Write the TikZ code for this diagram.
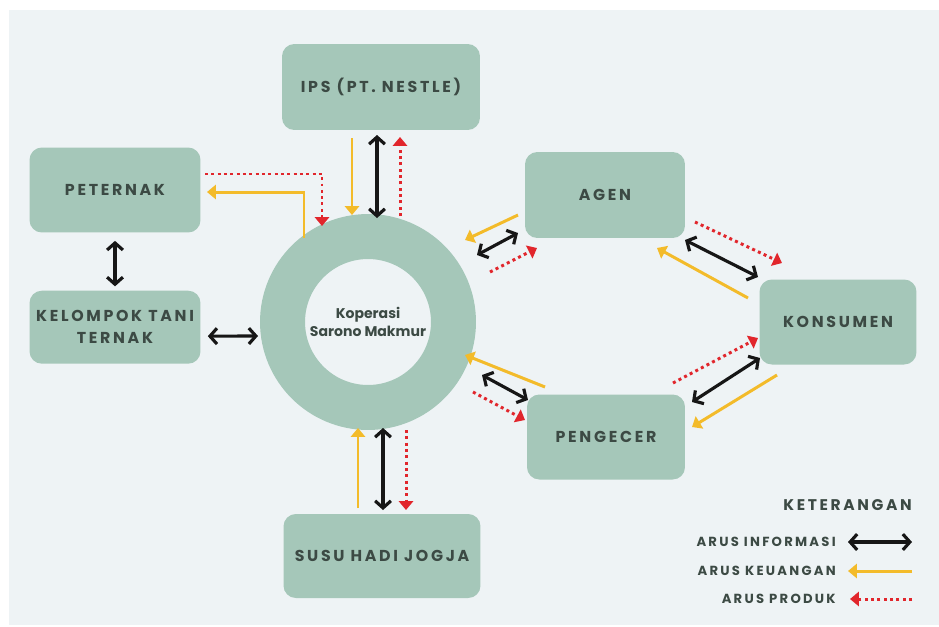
\documentclass[tikz,border=0pt]{standalone}
\usepackage{fontspec}
\usepackage{tikz}
\usetikzlibrary{arrows.meta, positioning, backgrounds}
\setmainfont{Poppins}
\newfontfamily\capsfont[LetterSpace=17]{Poppins}
\definecolor{sageGreen}{RGB}{165,199,185}
\definecolor{darkText}{RGB}{60,74,68}
\definecolor{paleBg}{RGB}{238,243,245}
\definecolor{infoBlack}{RGB}{22,22,22}
\definecolor{moneyYellow}{RGB}{243,187,42}
\definecolor{prodRed}{RGB}{225,38,44}

\begin{document}
\begin{tikzpicture}[
  x=0.02cm, y=-0.02cm,
  box/.style={rectangle, rounded corners=7pt, fill=sageGreen, align=center,
              text=darkText, font=\capsfont\bfseries\fontsize{9}{12.5}\selectfont,
              minimum width=3.3cm, minimum height=1.7cm, inner sep=2pt},
  ring/.style={circle, draw=sageGreen, line width=0.9cm, minimum size=3.42cm,
               inner sep=0pt, align=center, text=darkText,
               font=\bfseries\fontsize{8}{10}\selectfont},
  legtitle/.style={text=darkText, font=\capsfont\bfseries\fontsize{8.8}{10}\selectfont, inner sep=0pt},
  legtext/.style={text=darkText, font=\capsfont\bfseries\fontsize{7.5}{8}\selectfont, inner sep=0pt},
  info/.style={draw=infoBlack, line width=1.8pt,
               {Straight Barb[length=4pt,width=9pt]}-{Straight Barb[length=4pt,width=9pt]}},
  money/.style={draw=moneyYellow, line width=1.7pt, -{Triangle[length=5pt,width=8pt]}},
  prod/.style={draw=prodRed, line width=1.7pt, dash pattern=on 1.7pt off 1.9pt,
               -{Triangle[length=5pt,width=8pt]}},
]

%% Nodes
\node[ring] (kop) at (368,322) {Koperasi\\Sarono Makmur};

\node[box, minimum width=3.96cm, minimum height=1.72cm] (ips)  at (381,87)  {IPS (PT. NESTLE)};
\node[box, minimum width=3.42cm] (pet)  at (115,190) {PETERNAK};
\node[box, minimum width=3.42cm, minimum height=1.46cm, below=1.15cm of pet] (kel) {KELOMPOK TANI\\TERNAK};
\node[box, minimum width=3.2cm, minimum height=1.72cm] (agen) at (605,195) {AGEN};
\node[box, minimum width=3.14cm] (kons) at (838,322) {KONSUMEN};
\node[box, minimum width=3.16cm] (peng) at (606,437) {PENGECER};
\node[box, minimum width=3.94cm, minimum height=1.68cm] (susu) at (382,556) {SUSU HADI JOGJA};

%% Legend
\node[legtitle, anchor=east] (ket)   at (912,505) {KETERANGAN};
\node[legtext, anchor=east]  (linfo) at (836,542) {ARUS INFORMASI};
\node[legtext, anchor=east]  (lkeu)  at (836,571) {ARUS KEUANGAN};
\node[legtext, anchor=east]  (lprod) at (836,599) {ARUS PRODUK};

%% IPS
\draw[money] ([shift={(-29,51)}]ips.center) -- ([shift={(-16,-107)}]kop.center);
\draw[info]  ([shift={(-4,48)}]ips.center)  -- ([shift={(9,-104)}]kop.center);
\draw[prod]  ([shift={(32,-106)}]kop.center) -- ([shift={(19,50)}]ips.center);

%% Peternak
\draw[prod]  ([shift={(90,-16)}]pet.center) -| ([shift={(-46,-96)}]kop.center);
\draw[money] ([shift={(-64,-84)}]kop.center) |- ([shift={(92,2)}]pet.center);
\draw[info]  ([shift={(0,8)}]pet.south) -- ([shift={(0,-4)}]kel.north);
\draw[info]  ([shift={(7,9)}]kel.east) -- ([shift={(-110,14)}]kop.center);

%% Agen
\draw[money] ([shift={(-87,20)}]agen.center) -- ([shift={(97,-82)}]kop.center);
\draw[info]  ([shift={(-87,38)}]agen.center) -- ([shift={(109,-67)}]kop.center);
\draw[prod]  ([shift={(122,-50)}]kop.center) -- ([shift={(-68,53)}]agen.center);

%% Agen - Konsumen
\draw[prod]  ([shift={(90,27)}]agen.center) -- ([shift={(-56,-59)}]kons.center);
\draw[info]  ([shift={(80,45)}]agen.center) -- ([shift={(-80,-45)}]kons.center);
\draw[money] ([shift={(-90,-24)}]kons.center) -- ([shift={(52,53)}]agen.center);

%% Pengecer - Konsumen
\draw[prod]  ([shift={(67,-54)}]peng.center) -- ([shift={(-80,16)}]kons.center);
\draw[info]  ([shift={(86,-35)}]peng.center) -- ([shift={(-78,36)}]kons.center);
\draw[money] ([shift={(-61,53)}]kons.center) -- ([shift={(86,-10)}]peng.center);

%% Koperasi - Pengecer
\draw[money] ([shift={(-61,-50)}]peng.center) -- ([shift={(97,33)}]kop.center);
\draw[info]  ([shift={(114,53)}]kop.center) -- ([shift={(-78,-37)}]peng.center);
\draw[prod]  ([shift={(105,70)}]kop.center) -- ([shift={(-81,-17)}]peng.center);

%% Susu Hadi Jogja
\draw[money] ([shift={(-24,-48)}]susu.center) -- ([shift={(-10,106)}]kop.center);
\draw[info]  ([shift={(15,106)}]kop.center) -- ([shift={(1,-46)}]susu.center);
\draw[prod]  ([shift={(38,108)}]kop.center) -- ([shift={(24,-46)}]susu.center);

%% Legend arrows
\draw[info]  ([xshift=0.24cm]linfo.east) -- ([xshift=1.52cm]linfo.east);
\draw[money] ([xshift=1.52cm]lkeu.east) -- ([xshift=0.24cm]lkeu.east);
\draw[prod]  ([xshift=1.52cm]lprod.east) -- ([xshift=0.28cm]lprod.east);

%% Background
\begin{scope}[on background layer]
  \fill[white] (0,0) rectangle (939,626);
  \fill[paleBg] (9,10) rectangle (939,625);
\end{scope}
\end{tikzpicture}
\end{document}
